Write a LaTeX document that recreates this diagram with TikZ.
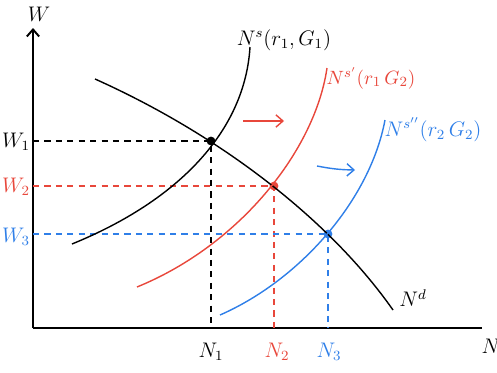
\documentclass[tikz,border=0pt]{standalone}
\usepackage{amsmath}
\usetikzlibrary{arrows.meta,positioning,calc}
\definecolor{shiftred}{HTML}{E8473B}
\definecolor{shiftblue}{HTML}{2F7FE8}

\begin{document}
\begin{tikzpicture}[x=0.02cm, y=-0.02cm,
  axis/.style={line width=1.1pt},
  curve/.style={line width=0.8pt},
  guide/.style={line width=0.7pt, dash pattern=on 3.5pt off 3pt},
  dot/.style={circle, fill, inner sep=0pt, minimum size=5pt},
  lbl/.style={font=\large},
  >={Straight Barb[length=4pt, width=7pt]}
]
\useasboundingbox (0,0) rectangle (497,372);

% axes
\coordinate (O) at (33,328);
\coordinate (Wtop) at (33,28);
\coordinate (Nend) at (482,328);
\draw[axis, ->] (O) -- (Wtop);
\draw[axis] (O) -- (Nend);
\node[lbl] (Wlab) at (39,14) {$W$};
\node[lbl] (Nlab) at (491,346) {$N$};

% equilibria
\node[dot] (E1) at (211,141) {};
\node[dot, shiftred] (E2) at (274,186) {};
\node[dot, shiftblue] (E3) at (328,234) {};

% labels on the axes
\node[lbl] (W1) at (16,142) {$W_1$};
\node[lbl, shiftred] (W2) at (16,187) {$W_2$};
\node[lbl, shiftblue] (W3) at (16,237) {$W_3$};
\node[lbl] (N1) at (211,352) {$N_1$};
\node[lbl, shiftred] (N2) at (277,352) {$N_2$};
\node[lbl, shiftblue] (N3) at (329,352) {$N_3$};

% dashed guides
\draw[guide] (O |- E1) -- (E1.center) -- (E1 |- O);
\draw[guide, shiftred] (O |- E2) -- (E2.center) -- (E2 |- O);
\draw[guide, shiftblue] (O |- E3) -- (E3.center) -- (E3 |- O);

% labour demand
\draw[curve] (95,79) .. controls (220,135) and (330,220) .. (393,310);
\node[lbl] (Nd) at (413,298) {$N^d$};

% labour supply
\draw[curve] (72,244) .. controls (180,200) and (245,130) .. (250,47);
\draw[curve, shiftred] (137,287) .. controls (240,245) and (315,150) .. (327,68);
\draw[curve, shiftblue] (220,315) .. controls (300,280) and (370,200) .. (385,120);
\node[lbl] (Ns1) at (284,40) {$N^s(r_1, G_1)$};
\node[shiftred, font=\fontsize{11}{13}\selectfont] (Ns2) at (371,78) {$N^{s'}(r_1\, G_2)$};
\node[lbl, shiftblue] (Ns3) at (433,130) {$N^{s''}(r_2\, G_2)$};

% shifts
\coordinate (ra) at (243,121);
\coordinate (rb) at (284,121);
\coordinate (ba) at (317,166);
\coordinate (bb) at (355,170);
\draw[->, curve, shiftred] (ra) -- (rb);
\draw[->, curve, shiftblue] (ba) to[bend right=5] (bb);
\end{tikzpicture}
\end{document}
